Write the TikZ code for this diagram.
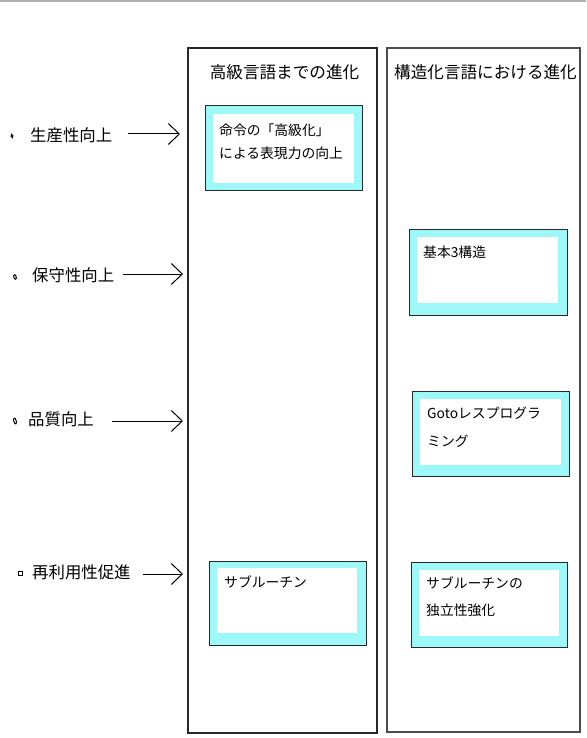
\documentclass[tikz,border=0pt]{standalone}
\usepackage{fontspec}
\setmainfont{Noto Sans CJK JP}
\usetikzlibrary{arrows.meta,shapes.geometric}
\definecolor{band}{RGB}{158,248,248}
\definecolor{edge}{RGB}{40,40,40}
\tikzset{
  colbox/.style={draw=edge, line width=1.2pt, fill=white, inner sep=0pt, rectangle},
  cbox/.style={draw=edge, line width=1pt, fill=band, inner sep=0pt, rectangle},
  wbox/.style={fill=white, inner sep=0pt, rectangle},
  head/.style={font=\fontsize{16.6}{20}\selectfont, inner sep=0pt},
  lbl/.style={font=\fontsize{16.4}{20}\selectfont, inner sep=0pt, anchor=west},
  btxt/.style={font=\fontsize{13.8}{20}\selectfont, inner sep=0pt, anchor=west, align=left},
  conn/.style={line width=1pt, -{Straight Barb[length=11pt, width=21pt, line width=1pt]}},
  dotb/.style={draw=black, line width=1pt, ellipse, inner sep=0pt, minimum width=2.5pt, minimum height=4.5pt, rotate=15},
}
\begin{document}
\begin{tikzpicture}[x=1pt,y=-1pt]
\useasboundingbox (0,0) rectangle (586,738);
\fill[white] (0,0) rectangle (586,738);
\draw[gray!60, line width=1.5pt] (0,0.8) -- (586,0.8);

% columns
\node[colbox, minimum width=189pt, minimum height=685pt] (c1) at (282.5,390.5) {};
\node[colbox, draw=black!70, line width=1.5pt, minimum width=193pt, minimum height=684pt] (c2) at (483.5,390) {};
\node[head] (h1) at (284.5,72) {高級言語までの進化};
\node[head] (h2) at (485.5,72) {構造化言語における進化};

% boxes
\node[cbox, minimum width=157pt, minimum height=84pt] (b1) at (283.5,148) {};
\node[wbox, minimum width=141pt, minimum height=69pt] (w1) at (283.5,148.5) {};
\node[btxt, font=\fontsize{13.8}{23}\selectfont] (t1) at (219,141.5) {命令の「高級化」\\による表現力の向上};

\node[cbox, minimum width=158pt, minimum height=86pt] (b2) at (488,272) {};
\node[wbox, minimum width=141pt, minimum height=66pt] (w2) at (487.5,270) {};
\node[btxt] (t2) at (423,252) {基本3構造};

\node[cbox, minimum width=157pt, minimum height=85pt] (b3) at (490.5,433.5) {};
\node[wbox, minimum width=141pt, minimum height=66pt] (w3) at (490.5,432) {};
\node[btxt, font=\fontsize{13.8}{28}\selectfont] (t3) at (427,427.5) {Gotoレスプログラ\\ミング};

\node[cbox, minimum width=157pt, minimum height=84pt] (b4) at (287.5,603) {};
\node[wbox, minimum width=140pt, minimum height=65pt] (w4) at (287,600.5) {};
\node[btxt] (t4) at (224,582) {サブルーチン};

\node[cbox, minimum width=156pt, minimum height=85pt] (b5) at (489,604.5) {};
\node[wbox, minimum width=140pt, minimum height=66pt] (w5) at (489,603) {};
\node[btxt, font=\fontsize{13.8}{27}\selectfont] (t5) at (426,596.5) {サブルーチンの\\独立性強化};

% left labels
\node[dotb, minimum width=2pt, minimum height=3.5pt] (d1) at (12,136) {};
\node[lbl] (l1) at (30,135) {生産性向上};
\coordinate (s1) at (128,134); \coordinate (e1) at (180,134);
\draw[conn] (s1) -- (e1);

\node[dotb] (d2) at (15,277) {};
\node[lbl] (l2) at (32,275) {保守性向上};
\coordinate (s2) at (123,274); \coordinate (e2) at (183,274);
\draw[conn] (s2) -- (e2);

\node[dotb, minimum width=2.5pt, minimum height=6pt] (d3) at (15,421) {};
\node[lbl] (l3) at (28,419) {品質向上};
\coordinate (s3) at (112,421); \coordinate (e3) at (183,421);
\draw[conn] (s3) -- (e3);

\node[draw=black, line width=1pt, rectangle, inner sep=0pt, minimum width=4pt, minimum height=4pt] (d4) at (20,573) {};
\node[lbl] (l4) at (32,572) {再利用性促進};
\coordinate (s4) at (143,574); \coordinate (e4) at (183,574);
\draw[conn] (s4) -- (e4);
\end{tikzpicture}
\end{document}
